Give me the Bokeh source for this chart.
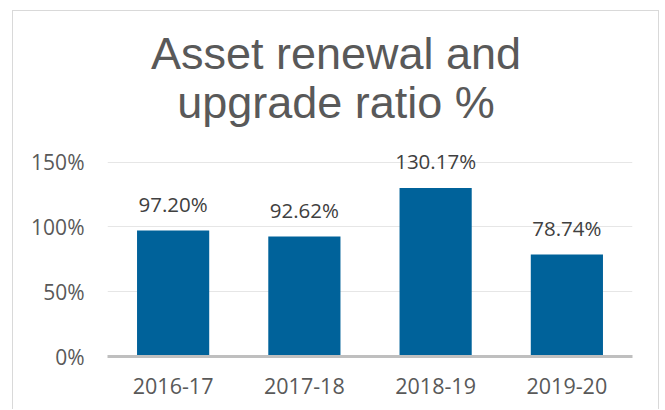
from bokeh.plotting import figure
from bokeh.models import (Range1d, FactorRange, FixedTicker, Label, ColumnDataSource)
from bokeh.core.properties import value
from bokeh.embed import file_html
from bokeh.resources import INLINE

# ---- data ----
categories = ["2016-17", "2017-18", "2018-19", "2019-20"]
ratios = [97.20, 92.62, 130.17, 78.74]
y_ticks = [0, 50, 100, 150]
y_tick_labels = ["0%", "50%", "100%", "150%"]
title_lines = ["Asset renewal and", "upgrade ratio %"]

labels = [f"{v:.2f}%" for v in ratios]
src = ColumnDataSource(dict(cat=categories, val=ratios, lab=labels))

# ---- layout geometry (pixels inside the bordered box) ----
W, H = 647, 399
BOTTOM = 54                      # space below plot frame
FRAME_H = H - BOTTOM             # frame runs from top of figure to axis
GRID_TOP_PX = 150.7              # pixel row of the top gridline
px_per_unit = (FRAME_H - GRID_TOP_PX) / y_ticks[-1]
y_max = FRAME_H / px_per_unit
title_base_px = [42.3, 91.0]     # anchor rows of the two title lines
title_y = [(FRAME_H - b) / px_per_unit for b in title_base_px]

TXT = "#595959"
p = figure(width=W, height=H, output_backend="svg", toolbar_location=None,
           x_range=FactorRange(*categories), y_range=Range1d(0, y_max),
           min_border_left=94, min_border_right=28, min_border_bottom=BOTTOM,
           min_border_top=0, outline_line_color=None,
           background_fill_color="white", border_fill_color="white")
p.styles = {"margin-left": "12px", "margin-top": "10px",
            "border-left": "1px solid #d9d9d9", "border-top": "1px solid #d9d9d9",
            "border-right": "1px solid #d9d9d9"}

# title, two centred lines
for txt, ty in zip(title_lines, title_y):
    p.add_layout(Label(x=len(categories) / 2, y=ty, x_offset=-34, text=txt,
                       text_align="center", text_baseline="alphabetic",
                       text_font="Liberation Sans", text_font_size="45px",
                       text_color=TXT))

p.vbar(x="cat", top="val", width=0.55, source=src, color="#00629a", line_color=None)
p.text(x="cat", y="val", text="lab", source=src, text_align="center",
       text_baseline="alphabetic", y_offset=-27, text_font=value("Open Sans"),
       text_font_size="20.5px", text_color="#404040")

# axes
p.yaxis.ticker = FixedTicker(ticks=y_ticks)
p.yaxis.major_label_overrides = {t: l for t, l in zip(y_ticks, y_tick_labels)}
p.yaxis.axis_line_color = None
p.yaxis.major_tick_line_color = None
p.yaxis.minor_tick_line_color = None
p.yaxis.major_label_standoff = 17
p.yaxis.major_label_text_font = "Open Sans"
p.yaxis.major_label_text_font_size = "21px"
p.yaxis.major_label_text_color = TXT

p.xaxis.axis_line_color = "#bfbfbf"
p.xaxis.axis_line_width = 3
p.xaxis.major_tick_line_color = None
p.xaxis.minor_tick_line_color = None
p.xaxis.major_label_standoff = 15
p.xaxis.major_label_text_font = "Open Sans"
p.xaxis.major_label_text_font_size = "21.5px"
p.xaxis.major_label_text_color = TXT

p.xgrid.grid_line_color = None
p.ygrid.grid_line_color = "#e6e6e6"
p.ygrid.grid_line_width = 1

open("out.html", "w").write(file_html(p, INLINE))
